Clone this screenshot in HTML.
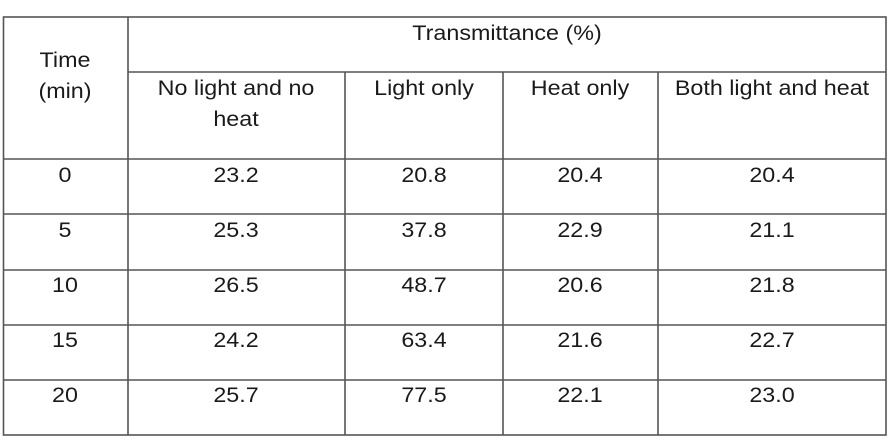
<!DOCTYPE html>
<html><head><meta charset="utf-8"><style>html,body{margin:0;padding:0;background:#fff;width:889px;height:444px;overflow:hidden}</style></head>
<body>
<svg width="889" height="444" viewBox="0 0 889 444" xmlns="http://www.w3.org/2000/svg">
<rect width="889" height="444" fill="#fff"/>
<g stroke="#555" stroke-width="1.6" fill="none">
<rect x="3.5" y="17" width="882.5" height="418"/>
<line x1="128" y1="17" x2="128" y2="435"/>
<line x1="345" y1="72" x2="345" y2="435"/>
<line x1="503" y1="72" x2="503" y2="435"/>
<line x1="658" y1="72" x2="658" y2="435"/>
<line x1="128" y1="72" x2="886" y2="72"/>
<line x1="3.5" y1="159" x2="886" y2="159"/>
<line x1="3.5" y1="214" x2="886" y2="214"/>
<line x1="3.5" y1="270" x2="886" y2="270"/>
<line x1="3.5" y1="325" x2="886" y2="325"/>
<line x1="3.5" y1="380" x2="886" y2="380"/>
</g>
<g font-family="Liberation Sans, Arial, sans-serif" font-size="21" fill="#1a1a1a" text-anchor="middle">
<text transform="translate(65,67) scale(1.11,1)">Time</text>
<text transform="translate(65,98) scale(1.11,1)">(min)</text>
<text transform="translate(507,40) scale(1.11,1)">Transmittance (%)</text>
<text transform="translate(236,95) scale(1.11,1)">No light and no</text>
<text transform="translate(236,126) scale(1.11,1)">heat</text>
<text transform="translate(424,95) scale(1.11,1)">Light only</text>
<text transform="translate(580,95) scale(1.11,1)">Heat only</text>
<text transform="translate(772,95) scale(1.11,1)">Both light and heat</text>

<text transform="translate(65,182) scale(1.11,1)">0</text>
<text transform="translate(236,182) scale(1.11,1)">23.2</text>
<text transform="translate(424,182) scale(1.11,1)">20.8</text>
<text transform="translate(580,182) scale(1.11,1)">20.4</text>
<text transform="translate(772,182) scale(1.11,1)">20.4</text>

<text transform="translate(65,237) scale(1.11,1)">5</text>
<text transform="translate(236,237) scale(1.11,1)">25.3</text>
<text transform="translate(424,237) scale(1.11,1)">37.8</text>
<text transform="translate(580,237) scale(1.11,1)">22.9</text>
<text transform="translate(772,237) scale(1.11,1)">21.1</text>

<text transform="translate(65,292) scale(1.11,1)">10</text>
<text transform="translate(236,292) scale(1.11,1)">26.5</text>
<text transform="translate(424,292) scale(1.11,1)">48.7</text>
<text transform="translate(580,292) scale(1.11,1)">20.6</text>
<text transform="translate(772,292) scale(1.11,1)">21.8</text>

<text transform="translate(65,347) scale(1.11,1)">15</text>
<text transform="translate(236,347) scale(1.11,1)">24.2</text>
<text transform="translate(424,347) scale(1.11,1)">63.4</text>
<text transform="translate(580,347) scale(1.11,1)">21.6</text>
<text transform="translate(772,347) scale(1.11,1)">22.7</text>

<text transform="translate(65,402) scale(1.11,1)">20</text>
<text transform="translate(236,402) scale(1.11,1)">25.7</text>
<text transform="translate(424,402) scale(1.11,1)">77.5</text>
<text transform="translate(580,402) scale(1.11,1)">22.1</text>
<text transform="translate(772,402) scale(1.11,1)">23.0</text>
</g>
</svg>
</body></html>
